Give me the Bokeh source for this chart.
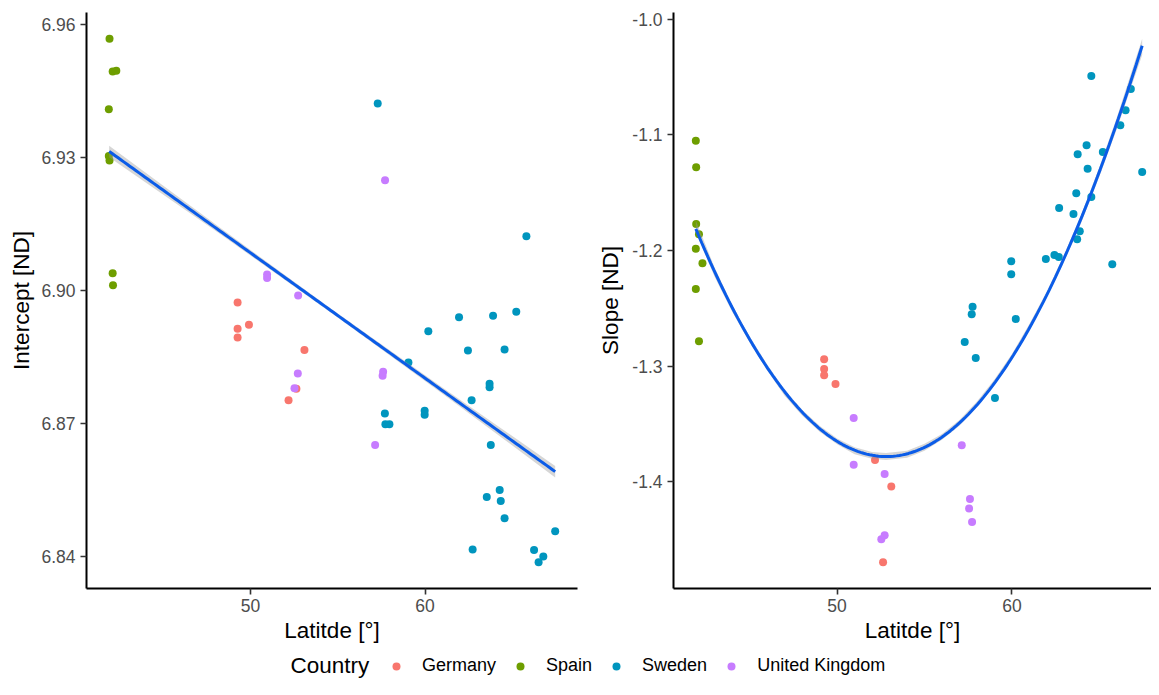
import numpy as np
from bokeh.plotting import figure
from bokeh.layouts import column, row
from bokeh.models import (Range1d, FixedTicker, PrintfTickFormatter, Legend, LegendItem,
                          Label, ColumnDataSource)
from bokeh.embed import file_html
from bokeh.resources import INLINE

# ---------------- data ----------------
countries = ["Germany", "Spain", "Sweden", "United Kingdom"]
colors = ["#F8766D", "#6E9E00", "#0095BE", "#C77CFF"]

# Intercept panel (points)
int_lat_germany = [49.26, 49.26, 49.91, 49.26, 53.09, 52.63, 52.18]
int_val_germany = [6.8973, 6.8914, 6.8923, 6.8894, 6.8866, 6.8779, 6.8753]
int_lat_spain = [41.92, 42.10, 42.31, 41.88, 41.88, 41.92, 42.10, 42.12]
int_val_spain = [6.9567, 6.9493, 6.9495, 6.9408, 6.9303, 6.9293, 6.9039, 6.9012]
int_lat_sweden = [57.29, 65.81, 61.95, 63.90, 65.23, 60.19, 62.46, 64.56, 59.05, 63.70,
                  63.70, 62.67, 57.70, 59.98, 59.98, 57.73, 57.96, 63.77, 64.28, 63.54,
                  64.34, 64.56, 67.46, 62.73, 66.25, 66.78, 66.51]
int_val_sweden = [6.9421, 6.9122, 6.8940, 6.8943, 6.8952, 6.8908, 6.8865, 6.8867, 6.8838, 6.8790,
                  6.8782, 6.8753, 6.8723, 6.8729, 6.8720, 6.8699, 6.8699, 6.8652, 6.8551, 6.8535,
                  6.8526, 6.8487, 6.8458, 6.8417, 6.8416, 6.8401, 6.8388]
int_lat_uk = [50.95, 50.95, 52.73, 57.71, 52.71, 52.52, 57.60, 57.57, 57.14]
int_val_uk = [6.9036, 6.9028, 6.8989, 6.9248, 6.8813, 6.8780, 6.8817, 6.8808, 6.8652]

# Intercept panel (fitted line and its confidence half-width)
int_fit_lat = [41.90, 48.30, 54.70, 61.10, 67.46]
int_fit_val = [6.9313, 6.9133, 6.8952, 6.8772, 6.8592]
int_fit_hw = [0.0013, 0.0007, 0.00045, 0.0007, 0.0013]

# Slope panel (points)
slp_lat_germany = [49.26, 49.26, 49.26, 49.91, 52.17, 53.10, 52.63]
slp_val_germany = [-1.2940, -1.3024, -1.3078, -1.3153, -1.3810, -1.4040, -1.4694]
slp_lat_spain = [41.92, 41.94, 41.94, 42.10, 41.92, 42.30, 41.92, 42.10]
slp_val_spain = [-1.1051, -1.1281, -1.1771, -1.1860, -1.1984, -1.2110, -1.2333, -1.2785]
slp_lat_sweden = [64.54, 66.80, 66.50, 66.20, 64.27, 63.76, 65.20, 64.33, 67.45, 63.68,
                  64.54, 62.70, 63.52, 63.88, 63.73, 62.43, 62.68, 61.94, 59.96, 59.96,
                  65.74, 57.75, 57.70, 60.22, 57.30, 57.93, 59.03]
slp_val_sweden = [-1.0492, -1.0605, -1.0789, -1.0918, -1.1091, -1.1169, -1.1149, -1.1293, -1.1322, -1.1506,
                  -1.1538, -1.1633, -1.1685, -1.1834, -1.1903, -1.2039, -1.2056, -1.2073, -1.2093, -1.2206,
                  -1.2119, -1.2486, -1.2551, -1.2592, -1.2790, -1.2929, -1.3274]
slp_lat_uk = [50.95, 50.95, 52.72, 52.53, 52.72, 57.13, 57.60, 57.55, 57.72]
slp_val_uk = [-1.3447, -1.3850, -1.3931, -1.4495, -1.4460, -1.3683, -1.4147, -1.4230, -1.4346]

# Slope panel (fitted curve and its confidence half-width)
slp_fit_lat = [41.92, 43.0, 44.0, 45.0, 46.0, 47.0, 48.0, 49.0, 50.0, 51.0, 52.0, 52.8, 54.0,
               55.0, 56.0, 57.0, 58.0, 59.0, 60.0, 61.0, 62.0, 63.0, 64.0, 65.0, 66.0, 67.45]
slp_fit_val = [-1.179, -1.219, -1.250, -1.277, -1.301, -1.323, -1.340, -1.354, -1.365, -1.373,
               -1.377, -1.378, -1.376, -1.370, -1.361, -1.349, -1.333, -1.314, -1.292, -1.266,
               -1.238, -1.206, -1.171, -1.132, -1.090, -1.024]
slp_fit_hw = [0.005, 0.004, 0.003, 0.0025, 0.0025, 0.0025, 0.0025, 0.0025, 0.0025, 0.003,
              0.003, 0.003, 0.003, 0.003, 0.0025, 0.0025, 0.0025, 0.0025, 0.0025, 0.0025,
              0.0025, 0.003, 0.0035, 0.004, 0.005, 0.007]

int_ticks = [6.84, 6.87, 6.90, 6.93, 6.96]
slp_ticks = [-1.4, -1.3, -1.2, -1.1, -1.0]
lat_ticks = [50, 60]

int_sets = [(int_lat_germany, int_val_germany), (int_lat_spain, int_val_spain),
            (int_lat_sweden, int_val_sweden), (int_lat_uk, int_val_uk)]
slp_sets = [(slp_lat_germany, slp_val_germany), (slp_lat_spain, slp_val_spain),
            (slp_lat_sweden, slp_val_sweden), (slp_lat_uk, slp_val_uk)]

FONT = "Liberation Sans"
LINE_COLOR = "#0B5CE8"


def expand(lo, hi, f=0.05):
    d = (hi - lo) * f
    return lo - d, hi + d


def style(p, ylab, yticks, fmt, ylabel_standoff):
    p.xgrid.visible = False
    p.ygrid.visible = False
    p.outline_line_color = None
    p.xaxis.axis_label = "Latitde [°]"
    p.yaxis.axis_label = ylab
    p.xaxis.ticker = FixedTicker(ticks=lat_ticks)
    p.yaxis.ticker = FixedTicker(ticks=yticks)
    p.yaxis.formatter = PrintfTickFormatter(format=fmt)
    for ax in (p.xaxis[0], p.yaxis[0]):
        ax.axis_line_color = "black"
        ax.axis_line_width = 2
        ax.major_tick_line_color = "#333333"
        ax.major_tick_line_width = 1.6
        ax.major_tick_out = 6
        ax.major_tick_in = 0
        ax.minor_tick_line_color = None
        ax.major_label_text_font = FONT
        ax.major_label_text_font_size = "17.5px"
        ax.major_label_text_color = "#4D4D4D"
        ax.axis_label_text_font = FONT
        ax.axis_label_text_font_size = "22.5px"
        ax.axis_label_text_font_style = "normal"
        ax.axis_label_text_color = "black"
    p.xaxis.major_label_standoff = 4
    p.xaxis.axis_label_standoff = 3
    p.yaxis.major_label_standoff = 5
    p.yaxis.axis_label_standoff = ylabel_standoff


def panel(sets, fit_lat, fit_val, fit_hw, deg, width, bl, br, ylab, yticks, fmt, lstand, crop=1.0):
    x = np.concatenate([np.asarray(a, float) for a, _ in sets])
    y = np.concatenate([np.asarray(b, float) for _, b in sets])
    fl = np.asarray(fit_lat, float)
    fv = np.asarray(fit_val, float)
    hw = np.asarray(fit_hw, float)
    lo, hi = fv - hw, fv + hw
    # smooth rendering of the read curve (least-squares polynomial through the read points)
    coef = np.polyfit(fl, fv, deg)
    xs = np.linspace(fl.min(), fl.max(), 150)
    ys = np.polyval(coef, xs)
    x0, x1 = expand(x.min(), x.max())
    y0, y1 = expand(min(y.min(), lo.min()), max(y.max(), hi.max()))
    x1c = x0 + (x1 - x0) * crop
    p = figure(width=width, height=647, toolbar_location=None, output_backend="svg",
               x_range=Range1d(x0, x1c), y_range=Range1d(y0, y1),
               min_border_left=bl, min_border_right=br, min_border_top=12, min_border_bottom=59,
               background_fill_color="white", border_fill_color="white")
    for (la, va), c in zip(sets, colors):
        p.scatter(x=la, y=va, size=8, fill_color=c, line_color=None)
    band = ColumnDataSource(dict(x=fl, lo=lo, hi=hi))
    p.varea(x="x", y1="lo", y2="hi", source=band, fill_color="#999999", fill_alpha=0.4)
    p.line(x=xs, y=ys, line_color=LINE_COLOR, line_width=3)
    style(p, ylab, yticks, fmt, lstand)
    return p


p1 = panel(int_sets, int_fit_lat, int_fit_val, int_fit_hw, 1, 587, 86, 10,
           "Intercept [ND]", int_ticks, "%.2f", 4)
p2 = panel(slp_sets, slp_fit_lat, slp_fit_val, slp_fit_hw, 2, 564, 86, 0,
           "Slope [ND]", slp_ticks, "%.1f", 6, crop=478 / 491)

# legend strip
lg = figure(width=1151, height=32, toolbar_location=None, output_backend="svg",
            x_range=Range1d(0, 1), y_range=Range1d(0, 1),
            x_axis_location=None, y_axis_location=None,
            min_border=0, min_border_left=0, min_border_right=0, min_border_top=0, min_border_bottom=0)
lg.xgrid.visible = False
lg.ygrid.visible = False
lg.outline_line_color = None
items = []
for name, c in zip(countries, colors):
    r = lg.scatter(x=[np.nan], y=[np.nan], size=8, fill_color=c, line_color=None)
    items.append(LegendItem(label=name, renderers=[r]))
leg = Legend(items=items, orientation="horizontal", location=(386, 3),
             padding=0, margin=0, spacing=14, label_standoff=16, glyph_width=20, glyph_height=20,
             label_text_font=FONT, label_text_font_size="18px", label_text_color="black",
             border_line_color=None, background_fill_alpha=0)
lg.add_layout(leg, "center")
lg.add_layout(Label(x=290, y=14, x_units="screen", y_units="screen", text="Country",
                    text_font=FONT, text_font_size="22.5px", text_baseline="middle",
                    text_color="black"))

layout = column(row(p1, p2), lg)
open("out.html", "w").write(file_html(layout, INLINE))
